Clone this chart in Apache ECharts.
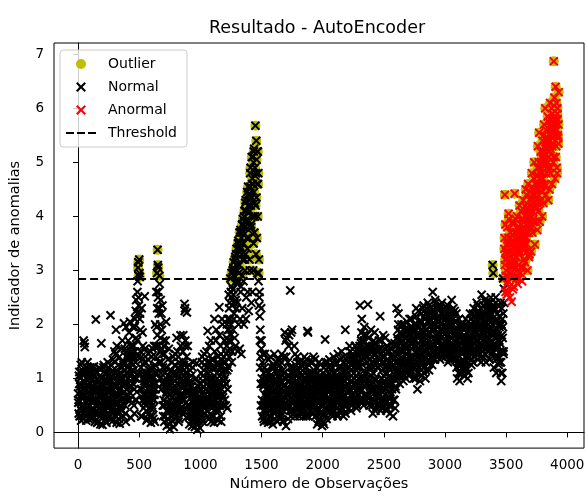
<!DOCTYPE html>
<html lang="pt-br">
<head>
<meta charset="UTF-8">
<title>Resultado - AutoEncoder</title>
<script src="https://cdn.jsdelivr.net/npm/echarts@6/dist/echarts.min.js"></script>
<style>
    html, body { margin: 0; padding: 0; background: #fff; }
    #main { width: 588px; height: 497px; }
</style>
</head>
<body>
<div id="main"></div>
<script>
    // leituras do indicador a cada 5 observações, blocos de 500
    // amostra A: x = bloco + 5i ; B: x = bloco + 2 + 5i ; C: x = bloco + 4 + 5i
    var passo = 5;
    var obs0 = [
        0.72, 0.35, 1.12, 0.58, 0.9, 0.22, 1.3, 0.66, 0.45, 1.7,
        0.95, 1.58, 0.3, 0.78, 1.2, 0.5, 0.88, 0.25, 1.05, 0.62,
        0.4, 1.15, 0.7, 0.28, 0.98, 0.55, 1.22, 0.35, 0.82, 2.09,
        0.6, 0.18, 1.0, 0.45, 0.75, 1.18, 0.3, 0.9, 1.65, 0.52,
        0.14, 0.85, 1.25, 0.4, 0.68, 0.2, 1.08, 0.55, 0.92, 0.33,
        1.2, 0.48, 0.75, 2.17, 0.25, 1.02, 0.6, 1.35, 0.38, 0.85,
        0.62, 1.45, 1.9, 0.18, 0.95, 0.4, 1.25, 0.7, 0.16, 1.1,
        0.5, 1.55, 0.88, 1.3, 0.3, 2.02, 0.75, 1.15, 0.2, 1.4,
        1.1, 0.6, 1.7, 1.35, 0.85, 2.05, 0.95, 1.5, 0.55, 1.25,
        0.9, 1.6, 0.35, 2.1, 1.3, 2.45, 0.75, 2.6, 3.05, 2.9
    ];
    var obs500 = [
        3.2, 2.88, 1.9, 0.3, 2.3, 1.1, 1.6, 0.45, 0.95, 2.52,
        1.3, 0.6, 0.22, 1.05, 0.8, 1.45, 0.35, 0.7, 1.2, 0.18,
        0.9, 0.5, 1.55, 0.25, 1.2, 0.7, 2.0, 1.4, 2.6, 2.95,
        3.38, 3.05, 2.2, 2.9, 1.5, 2.45, 0.8, 1.9, 2.35, 0.3,
        1.6, 0.2, 1.1, 0.55, 2.05, 0.12, 0.85, 1.35, 0.4, 0.7,
        0.06, 0.95, 0.4, 1.3, 0.65, 0.2, 1.1, 0.5, 0.8, 1.45,
        0.3, 1.75, 0.9, 0.55, 1.4, 0.25, 1.15, 0.7, 1.6, 0.45,
        1.2, 0.35, 1.8, 0.6, 2.38, 2.3, 1.0, 0.28, 2.22, 0.8,
        0.5, 1.25, 0.15, 0.9, 0.35, 1.05, 0.2, 0.7, 1.3, 0.42,
        0.8, 0.1, 0.55, 0.3, 1.28, 0.05, 0.65, 0.22, 0.9, 0.4
    ];
    var obs1000 = [
        0.3, 1.1, 0.6, 1.4, 0.2, 0.85, 0.45, 1.25, 0.7, 1.0,
        1.5, 0.4, 1.88, 0.75, 0.25, 1.2, 0.55, 1.7, 0.95, 0.3,
        0.6, 1.35, 0.18, 2.1, 0.9, 0.4, 1.9, 1.1, 0.7, 0.22,
        1.25, 2.32, 0.5, 1.6, 0.2, 1.0, 2.0, 0.65, 1.4, 0.85,
        0.6, 1.3, 0.9, 1.6, 0.45, 1.9, 1.2, 2.3, 1.55, 2.85,
        2.0, 2.95, 1.5, 2.65, 3.05, 2.2, 1.75, 3.25, 2.8, 3.4,
        2.4, 1.5, 3.55, 2.95, 3.7, 2.1, 3.4, 1.45, 3.85, 3.2,
        3.7, 2.0, 4.1, 3.0, 4.3, 2.5, 3.9, 3.4, 4.55, 2.25,
        4.4, 3.0, 4.9, 3.8, 5.1, 2.6, 4.6, 3.5, 5.25, 4.0,
        5.68, 3.3, 5.05, 2.95, 5.2, 2.8, 2.35, 2.15, 1.9, 0.5
    ];
    var obs1500 = [
        1.7, 0.3, 1.45, 0.85, 0.2, 1.2, 0.55, 1.0, 0.35, 0.7,
        0.9, 0.18, 1.35, 0.6, 1.05, 0.3, 0.75, 1.2, 0.45, 0.95,
        0.65, 1.45, 0.25, 1.0, 0.5, 1.3, 0.2, 0.85, 1.15, 0.4,
        1.25, 0.35, 0.9, 1.45, 0.6, 0.22, 1.1, 0.75, 1.85, 0.45,
        0.12, 1.75, 0.8, 1.3, 0.5, 1.8, 0.95, 2.63, 0.3, 1.1,
        1.9, 0.6, 1.2, 0.35, 0.9, 1.45, 0.5, 1.05, 0.75, 1.3,
        0.45, 1.0, 0.3, 1.3, 0.7, 0.9, 0.4, 1.15, 0.6, 0.85,
        1.4, 0.5, 0.95, 0.3, 1.2, 1.88, 1.85, 0.65, 1.1, 0.4,
        0.8, 1.3, 0.35, 1.0, 0.55, 1.4, 0.45, 0.9, 0.3, 1.2,
        0.65, 0.15, 1.1, 0.4, 1.3, 0.25, 0.85, 0.5, 1.0, 0.12
    ];
    var obs2000 = [
        0.9, 0.2, 1.2, 0.45, 1.72, 0.3, 1.0, 0.6, 1.3, 0.4,
        0.75, 1.35, 0.4, 1.05, 0.55, 1.2, 0.3, 0.9, 1.4, 0.6,
        1.1, 0.5, 1.3, 0.35, 0.85, 1.45, 0.6, 1.0, 0.4, 1.2,
        0.7, 1.5, 0.45, 1.15, 0.3, 1.3, 0.85, 1.9, 0.55, 1.0,
        1.4, 0.6, 1.1, 0.45, 1.6, 0.8, 1.25, 0.5, 0.95, 1.45,
        0.7, 1.3, 0.55, 1.6, 0.9, 1.15, 0.5, 1.45, 0.8, 1.0,
        1.2, 2.35, 0.6, 1.7, 2.1, 0.9, 1.5, 0.5, 1.95, 1.1,
        1.4, 0.7, 1.8, 1.0, 2.37, 0.55, 1.6, 0.85, 1.25, 1.9,
        0.9, 1.6, 0.35, 1.3, 0.6, 1.85, 1.0, 0.45, 1.5, 0.75,
        1.2, 0.5, 1.7, 0.9, 2.15, 0.4, 1.45, 1.0, 0.6, 1.8
    ];
    var obs2500 = [
        1.3, 0.55, 1.75, 0.8, 1.1, 0.45, 1.5, 0.65, 1.2, 0.9,
        0.35, 1.4, 0.7, 1.65, 1.0, 0.3, 1.25, 0.6, 1.5, 0.85,
        1.2, 2.3, 1.0, 1.7, 2.2, 1.35, 0.9, 1.85, 1.5, 2.0,
        1.1, 1.6, 0.95, 2.0, 1.3, 1.75, 1.0, 1.45, 1.9, 1.2,
        1.5, 1.05, 2.1, 1.3, 1.8, 1.15, 1.95, 1.4, 1.65, 1.0,
        1.7, 1.2, 2.0, 2.3, 1.45, 0.8, 1.85, 1.1, 1.55, 0.95,
        1.35, 2.2, 1.05, 1.8, 1.5, 2.35, 1.2, 1.95, 1.0, 1.65,
        1.9, 1.3, 2.4, 1.6, 1.15, 2.1, 1.45, 2.3, 1.75, 1.25,
        2.6, 1.5, 2.2, 1.35, 2.45, 1.8, 1.4, 2.05, 1.65, 2.35,
        1.55, 2.3, 1.35, 2.0, 1.75, 2.4, 1.45, 1.9, 2.15, 1.6
    ];
    var obs3000 = [
        2.1, 1.4, 1.85, 2.3, 1.55, 1.3, 2.0, 1.7, 2.2, 1.45,
        1.6, 2.45, 1.35, 2.0, 1.8, 1.5, 2.25, 1.4, 1.9, 1.2,
        1.0, 1.7, 1.25, 2.1, 0.95, 1.5, 1.85, 1.1, 2.0, 1.35,
        1.6, 1.05, 1.9, 1.3, 2.1, 1.15, 1.75, 1.0, 1.5, 1.95,
        1.4, 2.2, 1.6, 1.25, 2.0, 1.8, 1.3, 2.3, 1.5, 1.9,
        2.1, 1.45, 2.4, 1.7, 1.35, 2.25, 1.9, 1.55, 2.0, 1.3,
        2.55, 1.6, 2.2, 1.4, 1.95, 2.45, 1.75, 1.3, 2.3, 1.85,
        1.5, 2.4, 1.9, 1.35, 2.15, 2.5, 1.7, 1.45, 3.1, 2.95,
        1.2, 2.3, 1.6, 2.5, 1.1, 1.9, 2.2, 1.4, 2.0, 1.7,
        1.3, 2.4, 0.95, 1.8, 2.1, 2.85, 1.5, 3.4, 4.4, 2.6
    ];
    var obs3500 = [
        3.0, 2.55, 3.8, 2.8, 4.05, 3.3, 2.7, 3.6, 2.95, 2.42,
        3.5, 2.65, 3.9, 3.1, 4.42, 2.9, 3.7, 3.25, 4.0, 2.75,
        3.4, 2.85, 4.2, 3.6, 3.05, 3.95, 2.8, 3.75, 4.3, 3.2,
        3.9, 3.15, 4.5, 3.5, 4.1, 3.0, 4.6, 3.7, 3.3, 4.3,
        4.0, 3.35, 4.8, 3.7, 4.4, 3.9, 5.0, 3.48, 4.2, 4.6,
        4.5, 3.75, 5.3, 4.1, 5.55, 3.9, 4.8, 4.3, 5.1, 4.0,
        5.0, 4.25, 5.7, 4.6, 6.0, 4.4, 5.4, 4.9, 5.85, 4.3,
        5.2, 4.5, 6.1, 4.8, 5.6, 4.6, 5.9, 5.0, 6.87, 6.2,
        4.7, 6.4, 5.3, 4.9, 6.0, 5.5, 6.3
    ];

    var obsB0 = [
        0.55, 1.05, 0.3, 0.85, 1.25, 0.4, 0.7, 1.15, 0.25, 0.95,
        1.65, 0.45, 1.1, 0.22, 0.8, 1.3, 0.6, 1.0, 0.35, 1.2,
        0.9, 0.25, 1.2, 0.6, 0.42, 1.05, 0.78, 0.2, 1.15, 0.5,
        1.1, 0.4, 0.85, 0.2, 1.2, 0.65, 0.15, 1.0, 0.5, 0.8,
        0.6, 1.2, 0.3, 0.95, 0.5, 1.1, 0.18, 0.75, 1.3, 0.45,
        0.3, 1.0, 0.55, 1.25, 0.8, 0.2, 1.15, 0.45, 0.9, 1.5,
        1.3, 0.3, 0.85, 1.6, 0.55, 1.05, 0.25, 1.4, 0.9, 0.45,
        1.1, 0.4, 1.7, 0.65, 1.25, 0.9, 1.55, 0.35, 1.95, 0.8,
        0.7, 1.45, 1.0, 1.85, 0.6, 1.3, 0.27, 1.6, 1.15, 1.95,
        1.4, 0.5, 1.95, 1.0, 2.25, 0.6, 1.7, 2.8, 3.15, 2.35
    ];
    var obsB500 = [
        2.95, 2.2, 0.8, 1.4, 0.3, 1.85, 0.7, 1.25, 0.55, 1.55,
        0.5, 1.1, 0.9, 0.25, 1.35, 0.6, 1.0, 0.3, 1.5, 0.85,
        1.4, 0.3, 1.0, 0.6, 1.6, 0.2, 1.1, 0.9, 1.95, 2.3,
        3.1, 2.6, 1.3, 2.75, 2.0, 1.1, 2.2, 1.45, 0.5, 1.7,
        0.9, 1.45, 0.3, 1.7, 0.75, 1.2, 0.25, 0.95, 1.55, 0.15,
        0.7, 0.3, 1.15, 0.5, 0.9, 1.4, 0.1, 0.6, 1.25, 0.35,
        1.1, 0.45, 1.5, 0.8, 0.2, 1.3, 0.65, 1.8, 0.4, 1.0,
        0.7, 1.5, 0.4, 1.25, 2.25, 1.7, 0.55, 1.4, 0.9, 1.6,
        1.0, 0.3, 0.7, 1.15, 0.45, 0.85, 0.12, 1.2, 0.6, 0.25,
        0.35, 0.75, 0.2, 1.0, 0.5, 0.15, 0.85, 0.45, 0.6, 0.08
    ];
    var obsB1000 = [
        0.9, 0.5, 1.3, 0.25, 1.05, 0.7, 1.45, 0.35, 0.8, 1.2,
        0.6, 1.3, 0.3, 1.0, 1.6, 0.5, 0.85, 0.2, 1.35, 0.7,
        1.2, 0.3, 0.8, 1.5, 0.5, 1.7, 0.25, 1.0, 1.3, 0.55,
        0.4, 1.8, 0.9, 0.3, 1.35, 2.1, 0.7, 1.15, 0.5, 1.7,
        1.0, 0.5, 1.45, 2.0, 0.8, 1.7, 2.55, 1.4, 2.1, 1.8,
        2.5, 1.3, 2.95, 1.9, 3.15, 2.4, 3.0, 1.6, 3.3, 2.3,
        3.0, 3.5, 2.0, 3.4, 1.55, 3.75, 2.7, 3.6, 2.3, 3.95,
        2.8, 4.0, 3.2, 4.25, 2.1, 3.9, 4.45, 2.6, 4.2, 3.6,
        3.2, 4.8, 4.2, 2.4, 4.6, 5.1, 3.0, 5.2, 3.7, 4.9,
        4.2, 5.4, 3.6, 5.2, 4.6, 2.95, 2.5, 1.7, 1.4, 2.3
    ];
    var obsB1500 = [
        1.0, 1.3, 0.5, 0.25, 0.9, 1.45, 0.4, 0.8, 1.15, 0.22,
        0.5, 1.1, 0.3, 0.8, 1.4, 0.2, 1.0, 0.55, 0.15, 1.25,
        1.2, 0.35, 0.9, 0.6, 1.1, 0.3, 1.35, 0.7, 0.45, 1.0,
        0.8, 0.3, 1.3, 0.55, 1.05, 0.2, 1.4, 0.65, 1.0, 1.7,
        1.4, 0.5, 1.05, 0.25, 1.6, 0.7, 1.2, 0.4, 1.85, 0.9,
        0.4, 1.1, 0.8, 1.6, 0.3, 1.25, 0.65, 0.95, 1.4, 0.5,
        1.15, 0.6, 0.85, 0.35, 1.25, 0.5, 1.05, 0.75, 0.3, 1.3,
        0.8, 1.1, 0.4, 1.35, 0.6, 0.9, 0.3, 1.25, 0.7, 1.0,
        1.1, 0.5, 0.85, 1.3, 0.35, 1.05, 0.7, 1.35, 0.5, 0.95,
        1.2, 0.45, 0.8, 0.2, 1.05, 0.6, 1.25, 0.35, 0.7, 0.95
    ];
    var obsB2000 = [
        0.5, 1.1, 0.15, 0.8, 1.3, 0.6, 0.25, 1.05, 0.75, 1.2,
        1.1, 0.45, 1.25, 0.7, 1.0, 0.35, 1.3, 0.6, 0.85, 0.4,
        0.7, 1.25, 0.45, 1.0, 0.3, 1.2, 0.8, 0.5, 1.35, 0.9,
        1.2, 0.4, 1.0, 0.65, 1.4, 0.5, 1.1, 0.35, 1.25, 0.75,
        0.9, 1.3, 0.55, 1.2, 0.8, 1.5, 0.4, 1.05, 0.7, 1.35,
        1.2, 0.6, 1.4, 0.85, 1.05, 0.45, 1.3, 0.7, 1.55, 0.9,
        1.6, 0.8, 1.35, 1.85, 0.55, 1.25, 1.0, 1.7, 0.7, 1.45,
        1.1, 1.5, 0.65, 1.3, 0.9, 1.75, 0.5, 1.2, 1.55, 0.8,
        1.3, 0.5, 1.1, 1.7, 0.8, 1.25, 0.4, 1.55, 0.65, 1.2,
        0.8, 1.35, 0.55, 1.25, 0.7, 1.55, 1.0, 0.45, 1.3, 0.9
    ];
    var obsB2500 = [
        0.95, 1.4, 0.6, 1.2, 0.4, 1.6, 0.85, 1.3, 0.5, 1.05,
        1.15, 0.5, 1.3, 0.8, 1.45, 0.6, 1.0, 1.6, 0.45, 1.3,
        1.6, 1.1, 1.45, 1.9, 1.25, 1.7, 1.05, 1.55, 1.3, 1.8,
        1.5, 1.25, 1.8, 1.05, 1.6, 1.35, 1.85, 1.15, 1.55, 1.7,
        1.25, 1.7, 1.4, 1.95, 1.1, 1.55, 1.3, 1.85, 1.2, 1.6,
        1.35, 1.9, 1.0, 1.6, 1.25, 1.75, 1.4, 2.05, 1.2, 1.8,
        1.7, 1.3, 2.05, 1.45, 1.85, 1.1, 1.6, 2.1, 1.4, 1.9,
        1.5, 2.05, 1.7, 1.35, 1.95, 1.55, 2.2, 1.4, 2.0, 1.65,
        1.9, 1.6, 2.15, 1.75, 2.0, 1.45, 2.3, 1.7, 1.95, 1.55,
        2.05, 1.7, 1.9, 1.5, 2.2, 1.65, 1.85, 2.25, 1.55, 1.95
    ];
    var obsB3000 = [
        1.7, 1.95, 1.5, 2.05, 1.8, 1.6, 2.15, 1.45, 1.9, 1.75,
        1.95, 1.55, 1.75, 2.1, 1.45, 1.7, 1.6, 2.05, 1.35, 1.6,
        1.45, 1.9, 1.1, 1.6, 1.75, 1.3, 1.95, 1.5, 1.2, 1.7,
        1.3, 1.75, 1.5, 1.2, 1.65, 1.85, 1.4, 1.6, 1.1, 1.75,
        1.75, 1.5, 1.95, 1.7, 1.45, 1.6, 2.05, 1.75, 1.85, 1.55,
        1.7, 1.95, 1.6, 2.05, 1.8, 1.55, 1.75, 2.15, 1.65, 1.85,
        1.95, 1.7, 2.1, 1.85, 1.6, 2.0, 2.2, 1.55, 1.9, 2.1,
        2.0, 1.75, 2.2, 1.6, 1.9, 2.05, 1.85, 2.3, 2.0, 1.8,
        1.85, 2.05, 1.4, 1.75, 2.1, 1.55, 1.8, 2.35, 1.3, 1.95,
        1.65, 1.1, 2.0, 1.5, 1.75, 2.2, 2.66, 3.6, 3.2, 2.9
    ];
    var obsB3500 = [
        3.3, 2.75, 3.5, 2.6, 3.95, 3.15, 2.5, 3.7, 3.1, 2.9,
        3.05, 3.85, 2.7, 3.4, 3.15, 3.95, 2.85, 3.55, 3.0, 3.6,
        3.1, 3.8, 3.3, 2.95, 4.1, 3.45, 3.65, 3.05, 3.95, 3.5,
        3.45, 4.2, 3.6, 4.4, 3.35, 3.85, 4.0, 3.25, 4.45, 3.8,
        4.3, 3.8, 4.55, 4.1, 3.95, 4.7, 4.25, 4.5, 3.9, 4.75,
        4.15, 4.9, 4.4, 5.0, 4.6, 4.25, 5.2, 4.7, 4.45, 5.4,
        4.7, 5.5, 5.1, 4.55, 5.25, 5.6, 4.8, 5.45, 5.0, 5.75,
        5.4, 5.8, 4.9, 5.55, 6.0, 5.3, 5.7, 5.1, 6.05, 5.5,
        5.7, 5.1, 6.1, 4.8, 5.8, 5.35
    ];

    var obsC0 = [
        0.6, 0.9, 0.45, 1.0, 0.75, 0.3, 0.85, 0.5, 1.1, 0.65,
        0.7, 0.4, 1.0, 0.55, 0.85, 0.35, 0.75, 1.1, 0.5, 0.9,
        0.65, 0.95, 0.45, 0.8, 0.3, 1.05, 0.6, 0.9, 0.5, 0.75,
        0.8, 0.5, 0.95, 0.35, 0.7, 1.05, 0.55, 0.85, 0.4, 0.65,
        0.9, 0.45, 0.7, 1.0, 0.3, 0.8, 0.6, 0.95, 0.5, 0.75,
        0.65, 0.95, 0.4, 0.85, 1.1, 0.55, 0.8, 0.35, 1.0, 0.7,
        0.85, 0.5, 1.15, 0.7, 0.35, 0.95, 0.6, 1.05, 0.45, 0.8,
        0.95, 1.2, 0.6, 1.0, 0.75, 1.3, 0.5, 0.9, 1.1, 0.65,
        1.2, 0.9, 1.4, 0.75, 1.05, 1.6, 1.3, 0.85, 1.45, 1.0,
        1.15, 0.8, 1.5, 0.6, 1.75, 1.0, 2.2, 1.4, 2.5, 1.1
    ];
    var obsC500 = [
        2.1, 1.5, 1.2, 0.8, 1.35, 0.6, 1.0, 0.9, 1.3, 0.7,
        0.9, 0.4, 0.75, 1.1, 0.55, 0.95, 0.65, 1.15, 0.45, 0.8,
        0.7, 1.05, 0.45, 0.9, 0.6, 1.25, 0.8, 1.6, 1.1, 1.8,
        2.5, 1.6, 2.3, 1.0, 1.75, 1.3, 1.55, 0.9, 1.2, 0.6,
        0.5, 0.95, 0.7, 1.2, 0.4, 0.8, 1.05, 0.55, 0.9, 0.45,
        0.5, 0.8, 0.3, 0.65, 1.0, 0.45, 0.75, 0.35, 1.05, 0.6,
        0.75, 1.0, 0.5, 1.2, 0.6, 0.95, 0.4, 1.1, 0.85, 0.65,
        0.95, 0.6, 1.3, 0.85, 1.6, 1.1, 0.75, 1.2, 0.5, 0.9,
        0.75, 0.5, 0.95, 0.4, 0.65, 0.85, 0.3, 0.55, 0.8, 0.5,
        0.5, 0.3, 0.7, 0.45, 0.6, 0.25, 0.5, 0.75, 0.35, 0.55
    ];
    var obsC1000 = [
        0.6, 0.8, 0.4, 0.95, 0.55, 1.15, 0.7, 0.5, 1.0, 0.65,
        0.9, 0.65, 1.1, 0.5, 0.85, 1.3, 0.7, 0.95, 0.45, 1.0,
        0.85, 0.55, 1.05, 0.7, 1.2, 0.45, 0.9, 0.65, 1.4, 0.8,
        0.9, 1.2, 0.6, 1.45, 0.8, 1.1, 0.5, 1.3, 0.95, 1.15,
        1.3, 0.9, 1.75, 1.15, 2.1, 1.5, 1.9, 2.4, 1.7, 2.6,
        2.7, 2.35, 3.0, 2.55, 2.1, 2.9, 3.2, 2.45, 3.1, 2.75,
        3.3, 2.8, 3.5, 3.1, 3.45, 2.6, 3.7, 3.3, 2.9, 3.85,
        3.5, 3.9, 3.8, 3.3, 4.1, 3.6, 3.95, 4.4, 3.75, 4.3,
        4.1, 4.55, 3.85, 4.35, 4.7, 4.0, 5.0, 4.45, 4.25, 4.75,
        4.8, 4.35, 4.6, 4.0, 4.8, 3.2, 2.6, 1.2, 0.9, 1.55
    ];
    var obsC1500 = [
        0.6, 0.9, 0.4, 1.1, 0.7, 0.5, 0.95, 0.65, 0.8, 0.45,
        0.65, 0.4, 0.85, 0.55, 1.0, 0.7, 0.45, 0.9, 0.6, 0.75,
        0.55, 0.8, 0.45, 0.95, 0.7, 0.6, 1.05, 0.5, 0.75, 0.85,
        0.6, 0.95, 0.5, 0.75, 1.15, 0.4, 0.85, 0.65, 1.0, 0.55,
        0.7, 0.45, 0.95, 0.6, 1.05, 0.8, 0.5, 0.9, 0.65, 1.2,
        0.75, 1.0, 0.55, 0.85, 0.65, 1.1, 0.8, 0.45, 0.95, 0.7,
        0.65, 0.9, 0.5, 0.8, 1.05, 0.6, 0.75, 0.95, 0.55, 0.7,
        0.85, 0.55, 1.0, 0.7, 0.9, 0.5, 0.8, 1.05, 0.6, 0.75,
        0.65, 0.95, 0.6, 0.75, 1.1, 0.5, 0.85, 0.7, 1.0, 0.6,
        0.8, 0.55, 0.9, 0.6, 0.75, 0.35, 0.95, 0.65, 0.5, 0.85
    ];
    var obsC2000 = [
        0.65, 0.35, 0.85, 0.55, 1.0, 0.7, 0.45, 0.9, 0.6, 0.8,
        0.9, 0.6, 1.0, 0.8, 0.5, 0.95, 0.7, 1.1, 0.65, 0.85,
        0.85, 1.05, 0.6, 0.95, 0.75, 0.55, 1.0, 0.7, 0.9, 0.65,
        0.9, 0.6, 1.05, 0.8, 0.95, 0.7, 1.15, 0.6, 0.85, 1.0,
        1.0, 0.6, 1.3, 0.75, 1.5, 0.55, 1.15, 0.85, 1.4, 0.7,
        0.65, 1.35, 0.9, 1.6, 0.55, 1.2, 0.8, 1.5, 1.0, 0.7,
        1.3, 0.75, 1.65, 1.0, 1.45, 0.6, 1.8, 1.15, 0.85, 1.55,
        0.9, 1.6, 0.7, 1.4, 1.75, 0.95, 1.25, 0.65, 1.5, 1.05,
        1.4, 0.75, 1.2, 0.55, 1.65, 0.95, 1.45, 0.7, 1.3, 0.85,
        0.65, 1.55, 0.9, 1.35, 0.6, 1.7, 1.15, 0.8, 1.5, 1.05
    ];
    var obsC2500 = [
        1.4, 0.7, 1.2, 0.55, 1.6, 0.9, 1.35, 0.65, 1.5, 1.0,
        0.75, 1.55, 0.5, 1.2, 0.9, 1.4, 0.6, 1.65, 1.05, 0.8,
        1.15, 1.75, 1.3, 2.0, 1.05, 1.55, 1.85, 1.2, 1.65, 1.35,
        1.7, 1.05, 1.5, 1.9, 1.2, 1.75, 1.35, 2.05, 1.1, 1.6,
        1.3, 1.85, 1.15, 1.65, 2.1, 1.4, 1.9, 1.2, 1.75, 2.0,
        1.9, 1.25, 2.15, 1.5, 1.1, 1.8, 2.25, 1.35, 1.95, 1.6,
        1.25, 2.05, 1.5, 2.3, 1.3, 1.95, 1.7, 2.2, 1.15, 1.8,
        2.2, 1.45, 1.85, 2.35, 1.3, 2.05, 1.6, 2.25, 1.4, 2.0,
        1.5, 2.25, 1.9, 1.35, 2.4, 1.7, 2.1, 1.45, 2.3, 1.85,
        2.15, 1.5, 2.35, 1.75, 1.4, 2.2, 1.6, 2.3, 1.95, 1.45
    ];
    var obsC3000 = [
        1.6, 2.2, 1.45, 1.95, 2.35, 1.55, 2.1, 1.35, 1.85, 2.25,
        2.15, 1.45, 1.9, 2.3, 1.6, 2.05, 1.35, 1.8, 2.2, 1.5,
        1.3, 1.85, 1.1, 1.6, 2.0, 1.25, 1.75, 1.45, 1.95, 1.15,
        1.8, 1.25, 1.6, 1.95, 1.2, 1.7, 1.4, 2.05, 1.3, 1.55,
        1.9, 1.45, 2.1, 1.35, 1.75, 2.2, 1.5, 1.95, 1.4, 2.15,
        1.5, 2.2, 1.7, 2.35, 1.45, 1.95, 2.15, 1.6, 2.3, 1.75,
        2.15, 1.5, 2.35, 1.8, 2.05, 1.45, 2.4, 1.7, 2.25, 1.6,
        1.75, 2.3, 1.55, 2.1, 2.4, 1.65, 2.2, 1.5, 2.35, 1.9,
        2.25, 1.55, 2.4, 1.35, 2.05, 1.7, 2.35, 1.25, 2.15, 1.5,
        2.0, 1.3, 2.3, 1.1, 1.95, 1.45, 2.4, 3.1, 3.85, 3.35
    ];
    var obsC3500 = [
        3.2, 3.45, 2.9, 3.6, 3.35, 3.05, 3.7, 3.25, 3.5, 3.15,
        3.3, 3.55, 3.2, 3.7, 3.4, 3.25, 3.6, 3.35, 3.8, 3.45,
        3.55, 3.35, 3.75, 3.5, 3.85, 3.4, 3.7, 3.6, 3.9, 3.65,
        3.75, 4.0, 3.85, 4.15, 3.7, 4.05, 3.9, 4.2, 3.95, 4.1,
        4.1, 4.35, 4.2, 4.5, 4.25, 4.4, 4.15, 4.6, 4.35, 4.5,
        4.6, 4.75, 4.5, 4.9, 4.7, 4.85, 4.55, 5.0, 4.8, 4.95,
        5.05, 5.2, 4.95, 5.3, 5.15, 5.35, 5.0, 5.25, 5.45, 5.1,
        5.3, 5.5, 5.25, 5.65, 5.45, 5.75, 5.35, 5.6, 5.5, 5.8,
        5.5, 5.75, 5.6, 5.9, 5.45, 5.7
    ];

    var threshold = 2.84;
    var thresholdX = [0, 3920];
    var inicioAnormal = 3485;
    var xTicks = [0, 500, 1000, 1500, 2000, 2500, 3000, 3500, 4000];
    var yTicks = [0, 1, 2, 3, 4, 5, 6, 7];

    var amostraA = [obs0, obs500, obs1000, obs1500, obs2000, obs2500, obs3000, obs3500];
    var amostraB = [obsB0, obsB500, obsB1000, obsB1500, obsB2000, obsB2500, obsB3000, obsB3500];
    var amostraC = [obsC0, obsC500, obsC1000, obsC1500, obsC2000, obsC2500, obsC3000, obsC3500];
    var outlier = [], normal = [], anormal = [];
    function junta(blocos, desloc) {
        blocos.forEach(function (bloco, b) {
            bloco.forEach(function (v, i) {
                var x = b * 500 + desloc + i * passo;
                if (v > threshold) outlier.push([x, v]);
                if (x < inicioAnormal) normal.push([x, v]);
                else anormal.push([x, v]);
            });
        });
    }
    junta(amostraA, 0);
    junta(amostraB, 2);
    junta(amostraC, 4);

    var xis = 'path://M1.5,0L5,3.5L8.5,0L10,1.5L6.5,5L10,8.5L8.5,10L5,6.5L1.5,10L0,8.5L3.5,5L0,1.5Z';
    var tracos = 'path://M0,0H8V2H0ZM11,0H19V2H11ZM22,0H30V2H22Z';
    var fonte = 'DejaVu Sans';
    var semMilhar = function (v) { return String(v); };

    var myChart = echarts.init(document.getElementById('main'));
    var option = {
        animation: false,
        textStyle: { fontFamily: fonte },
        title: {
            text: 'Resultado - AutoEncoder',
            left: 312,
            top: 14,
            textAlign: 'center',
            textStyle: { fontFamily: fonte, fontSize: 17.5, fontWeight: 'normal', color: '#000' }
        },
        legend: {
            orient: 'vertical',
            left: 60,
            top: 50,
            padding: [7, 10, 7, 6],
            itemWidth: 30,
            itemHeight: 10,
            itemGap: 9,
            backgroundColor: 'rgba(255,255,255,0.8)',
            borderColor: '#cccccc',
            borderWidth: 1,
            borderRadius: 3,
            textStyle: { fontFamily: fonte, fontSize: 14, color: '#000', padding: [0, 0, 0, 7] },
            data: ['Outlier', 'Normal', 'Anormal', { name: 'Threshold', icon: tracos }]
        },
        grid: {
            left: 53, right: 4, top: 43, bottom: 46,
            show: true, borderColor: '#000', borderWidth: 1
        },
        xAxis: {
            type: 'value',
            min: -197,
            max: 4137,
            name: 'Número de Observações',
            nameLocation: 'middle',
            nameGap: 28,
            nameTextStyle: { fontFamily: fonte, fontSize: 14.5, color: '#000' },
            axisLine: { show: true, lineStyle: { color: '#000' } },
            axisTick: { show: true, length: 5, customValues: xTicks, lineStyle: { color: '#000' } },
            axisLabel: { customValues: xTicks, formatter: semMilhar, margin: 10, fontFamily: fonte, fontSize: 13.5, color: '#000' },
            splitLine: { show: false }
        },
        yAxis: {
            type: 'value',
            min: -0.29,
            max: 7.21,
            name: 'Indicador de anomalias',
            nameLocation: 'middle',
            nameGap: 31,
            nameTextStyle: { fontFamily: fonte, fontSize: 14.5, color: '#000' },
            axisLine: { show: true, lineStyle: { color: '#000' } },
            axisTick: { show: true, length: 5, customValues: yTicks, lineStyle: { color: '#000' } },
            axisLabel: { customValues: yTicks, formatter: semMilhar, margin: 10, fontFamily: fonte, fontSize: 13.5, color: '#000' },
            splitLine: { show: false }
        },
        series: [
            {
                name: 'Outlier',
                type: 'scatter',
                symbol: 'circle',
                symbolSize: 10,
                itemStyle: { color: '#bfbf00', opacity: 1 },
                data: outlier
            },
            {
                name: 'Normal',
                type: 'scatter',
                symbol: xis,
                symbolSize: 9.5,
                symbolKeepAspect: true,
                itemStyle: { color: '#000', opacity: 1 },
                data: normal
            },
            {
                name: 'Anormal',
                type: 'scatter',
                symbol: xis,
                symbolSize: 9.5,
                symbolKeepAspect: true,
                itemStyle: { color: '#ff0000', opacity: 1 },
                data: anormal
            },
            {
                name: 'Threshold',
                type: 'line',
                symbol: 'none',
                lineStyle: { color: '#000', width: 2, type: [8, 4] },
                itemStyle: { color: '#000' },
                data: [[thresholdX[0], threshold], [thresholdX[1], threshold]]
            }
        ]
    };
    myChart.setOption(option);
    window.addEventListener('resize', function () {
        myChart.resize();
    });
</script>
</body>
</html>
